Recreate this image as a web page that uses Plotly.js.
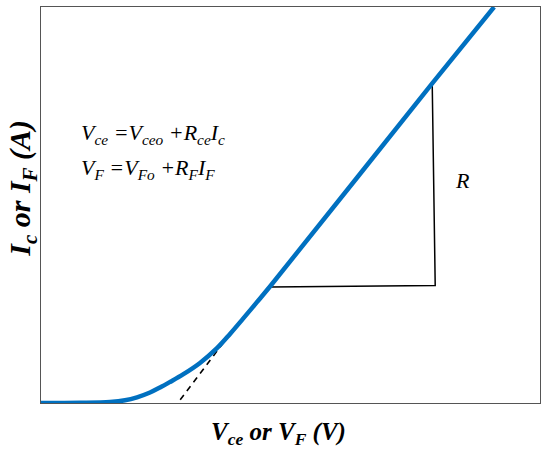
<!DOCTYPE html>
<html>
<head>
<meta charset="utf-8">
<script src="https://cdn.plot.ly/plotly-3.0.1.min.js"></script>
<style>
  html, body { margin: 0; padding: 0; background: #fff; }
  #chart { width: 550px; height: 455px; }
</style>
</head>
<body>
<div id="chart"></div>
<script>
// I-V characteristic, axis units are arbitrary (0-100 on both axes)
const vce = [0, 7.82, 13.83, 16.83, 19.24, 21.84, 23.85, 25.85, 28.46, 31.86, 35.21, 37.88, 40.54, 43.23, 45.89, 78.4, 90.8];
const ic = [0, 0.05, 0.25, 0.68, 1.44, 2.65, 3.92, 5.31, 7.21, 10.11, 13.78, 17.45, 21.37, 25.41, 29.41, 80.7, 100];

// tangent extension of the linear part (dashed)
const tangentX = [27.9, 38.2];
const tangentY = [0.8, 18.0];

// slope triangle
const triX = [45.9, 79.0, 78.4];
const triY = [29.3, 29.7, 80.7];

const serif = 'Liberation Serif, Times New Roman, serif';

const traces = [
    {
        x: tangentX, y: tangentY,
        mode: 'lines',
        line: { color: '#000', width: 1.6, dash: '6px,5px' },
        hoverinfo: 'skip'
    },
    {
        x: triX, y: triY,
        mode: 'lines',
        line: { color: '#000', width: 1.5 },
        hoverinfo: 'skip'
    },
    {
        x: vce, y: ic,
        mode: 'lines',
        line: { color: '#0070c0', width: 4.5, shape: 'spline', smoothing: 1 }
    }
];

const axisStyle = {
    range: [0, 100],
    showgrid: false,
    zeroline: false,
    showticklabels: false,
    ticks: '',
    showline: true,
    linecolor: '#555',
    linewidth: 1,
    mirror: true,
    fixedrange: true
};

const eqFont = { family: serif, size: 22, color: '#000', style: 'italic' };
const titleFont = { family: serif, size: 25, color: '#000', style: 'italic', weight: 'bold' };

const layout = {
    width: 550,
    height: 455,
    margin: { l: 41, r: 10, t: 7, b: 52 },
    paper_bgcolor: '#fff',
    plot_bgcolor: '#fff',
    showlegend: false,
    xaxis: axisStyle,
    yaxis: axisStyle,
    annotations: [
        {
            text: 'V<sub>ce</sub> =V<sub>ceo</sub> +R<sub>ce</sub>I<sub>c</sub>',
            x: 7.6, y: 68.0, xref: 'x', yref: 'y',
            xanchor: 'left', yanchor: 'middle',
            showarrow: false, font: eqFont
        },
        {
            text: 'V<sub>F</sub> =V<sub>Fo</sub> +R<sub>F</sub>I<sub>F</sub>',
            x: 7.6, y: 59.0, xref: 'x', yref: 'y',
            xanchor: 'left', yanchor: 'middle',
            showarrow: false, font: eqFont
        },
        {
            text: 'R',
            x: 84.4, y: 56.1, xref: 'x', yref: 'y',
            xanchor: 'center', yanchor: 'middle',
            showarrow: false, font: eqFont
        },
        {
            text: 'V<sub>ce</sub> or V<sub>F</sub> (V)',
            x: 0.475, y: -0.078, xref: 'paper', yref: 'paper',
            xanchor: 'center', yanchor: 'middle',
            showarrow: false, font: titleFont
        },
        {
            text: 'I<sub>c</sub> or I<sub>F</sub> (A)',
            x: -0.038, y: 0.541, xref: 'paper', yref: 'paper',
            xanchor: 'center', yanchor: 'middle', textangle: -90,
            showarrow: false, font: Object.assign({}, titleFont, { size: 30 })
        }
    ]
};

Plotly.newPlot('chart', traces, layout, { displayModeBar: false, staticPlot: true });
</script>
</body>
</html>
